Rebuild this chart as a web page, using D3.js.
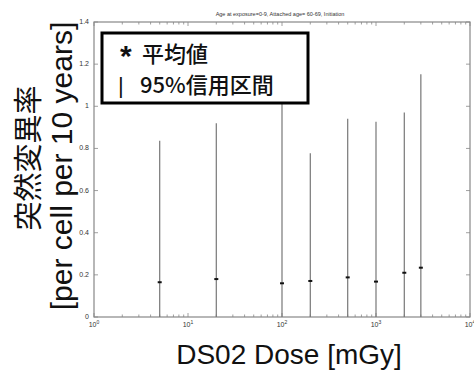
<!DOCTYPE html>
<html>
<head>
<meta charset="utf-8">
<script src="https://cdn.jsdelivr.net/npm/d3@7"></script>
<style>
  html, body { margin: 0; padding: 0; background: #fff; }
  svg { display: block; }
</style>
</head>
<body>
<div id="chart"></div>
<script>
// ── Datos ─────────────────────────────────────────────
const doses  = [5, 20, 100, 200, 500, 1000, 2000, 3000];
const means  = [0.165, 0.18, 0.16, 0.171, 0.188, 0.168, 0.21, 0.234];
const upper  = [0.837, 0.92, 1.25, 0.777, 0.941, 0.927, 0.97, 1.152];
const lower  = [0, 0, 0, 0, 0, 0, 0, 0];
const yTicks = [0, 0.2, 0.4, 0.6, 0.8, 1, 1.2, 1.4];
const xTicks = [1, 10, 100, 1000, 10000];
const titleText = 'Age at exposure=0-9, Attached age= 60-69, Initiation';
const legendSymbols = ['*', '|'];
const legendLabels  = ['平均値', '95%信用区間'];

const W = 474, H = 372;
const m = { left: 94, right: 4, top: 22, bottom: 55 };

const svg = d3.select('#chart').append('svg')
    .attr('width', W).attr('height', H);

const x = d3.scaleLog().domain([1, 10000]).range([m.left, W - m.right]);
const y = d3.scaleLinear().domain([0, 1.4]).range([H - m.bottom, m.top]);

const axisColor = '#888';
const sans = '"Liberation Sans", Arial, sans-serif';
const cjk  = '"Noto Sans CJK JP", "Liberation Sans", sans-serif';

// ── Título ────────────────────────────────────────────
svg.append('text')
    .attr('x', 280).attr('y', 16)
    .attr('text-anchor', 'middle')
    .style('font-family', sans).style('font-size', '5.5px').style('fill', '#333')
    .text(titleText);

// ── Marco y ticks ─────────────────────────────────────
const x0 = x.range()[0], x1 = x.range()[1];
const y0 = y.range()[0], y1 = y.range()[1];

svg.append('rect')
    .attr('x', x0).attr('y', y1)
    .attr('width', x1 - x0).attr('height', y0 - y1)
    .attr('fill', 'none').attr('stroke', axisColor).attr('stroke-width', 1.2);

// minor ticks en x
const minor = [];
for (let e = 0; e < 4; e++) for (let k = 2; k <= 9; k++) minor.push(k * Math.pow(10, e));

const tickG = svg.append('g').attr('stroke', axisColor).attr('stroke-width', 0.8);
minor.forEach(v => {
    tickG.append('line').attr('x1', x(v)).attr('x2', x(v)).attr('y1', y0).attr('y2', y0 - 2.5);
    tickG.append('line').attr('x1', x(v)).attr('x2', x(v)).attr('y1', y1).attr('y2', y1 + 2.5);
});
xTicks.forEach(v => {
    tickG.append('line').attr('x1', x(v)).attr('x2', x(v)).attr('y1', y0).attr('y2', y0 - 4);
    tickG.append('line').attr('x1', x(v)).attr('x2', x(v)).attr('y1', y1).attr('y2', y1 + 4);
});
yTicks.forEach(v => {
    tickG.append('line').attr('x1', x0).attr('x2', x0 + 4).attr('y1', y(v)).attr('y2', y(v));
    tickG.append('line').attr('x1', x1).attr('x2', x1 - 4).attr('y1', y(v)).attr('y2', y(v));
});

// etiquetas y
svg.append('g').selectAll('text').data(yTicks).join('text')
    .attr('x', x0 - 5).attr('y', d => y(d) + 2)
    .attr('text-anchor', 'end')
    .style('font-family', sans).style('font-size', '7px').style('fill', '#333')
    .text(d => d === 0 ? '0' : d3.format('~g')(d));

// etiquetas x (10^n)
const xl = svg.append('g').selectAll('text').data(xTicks).join('text')
    .attr('x', d => x(d)).attr('y', y0 + 10)
    .attr('text-anchor', 'middle')
    .style('font-family', sans).style('font-size', '7px').style('fill', '#333');
xl.append('tspan').text('10');
xl.append('tspan').attr('dy', -3).style('font-size', '5px')
    .text(d => Math.round(Math.log10(d)));

// ── Barras de error ───────────────────────────────────
const bars = svg.append('g');
doses.forEach((d, i) => {
    bars.append('line')
        .attr('x1', x(d)).attr('x2', x(d))
        .attr('y1', y(lower[i])).attr('y2', y(upper[i]))
        .attr('stroke', '#777').attr('stroke-width', 1.2);
    bars.append('line')
        .attr('x1', x(d) - 2).attr('x2', x(d) + 2)
        .attr('y1', y(means[i])).attr('y2', y(means[i]))
        .attr('stroke', '#111').attr('stroke-width', 2);
});

// ── Leyenda ───────────────────────────────────────────
const lg = svg.append('g');
lg.append('rect')
    .attr('x', 102).attr('y', 33).attr('width', 206).attr('height', 70)
    .attr('fill', '#fff').attr('stroke', '#000').attr('stroke-width', 3);

const legendY = [62, 93];
const symX    = [120, 118];
const labX    = [142, 140];
legendLabels.forEach((lab, i) => {
    lg.append('text')
        .attr('x', symX[i]).attr('y', legendY[i] + (i === 0 ? 4 : 0))
        .style('font-family', sans).style('font-size', i === 0 ? '30px' : '22px')
        .style('font-weight', i === 0 ? 'bold' : 'normal').style('fill', '#111')
        .text(legendSymbols[i]);
    lg.append('text')
        .attr('x', labX[i]).attr('y', legendY[i])
        .style('font-family', cjk).style('font-size', '22px').style('font-weight', 500)
        .style('fill', '#111')
        .text(lab);
});

// ── Títulos de ejes ───────────────────────────────────
svg.append('text')
    .attr('transform', 'translate(39,158) rotate(-90)')
    .attr('text-anchor', 'middle')
    .style('font-family', cjk).style('font-size', '29px').style('fill', '#111')
    .text('突然変異率');
svg.append('text')
    .attr('transform', 'translate(72,166) rotate(-90)')
    .attr('text-anchor', 'middle')
    .style('font-family', sans).style('font-size', '30px').style('fill', '#111')
    .text('[per cell per 10 years]');
svg.append('text')
    .attr('x', 289).attr('y', 364)
    .attr('text-anchor', 'middle')
    .style('font-family', sans).style('font-size', '28px').style('fill', '#111')
    .text('DS02 Dose [mGy]');
</script>
</body>
</html>
